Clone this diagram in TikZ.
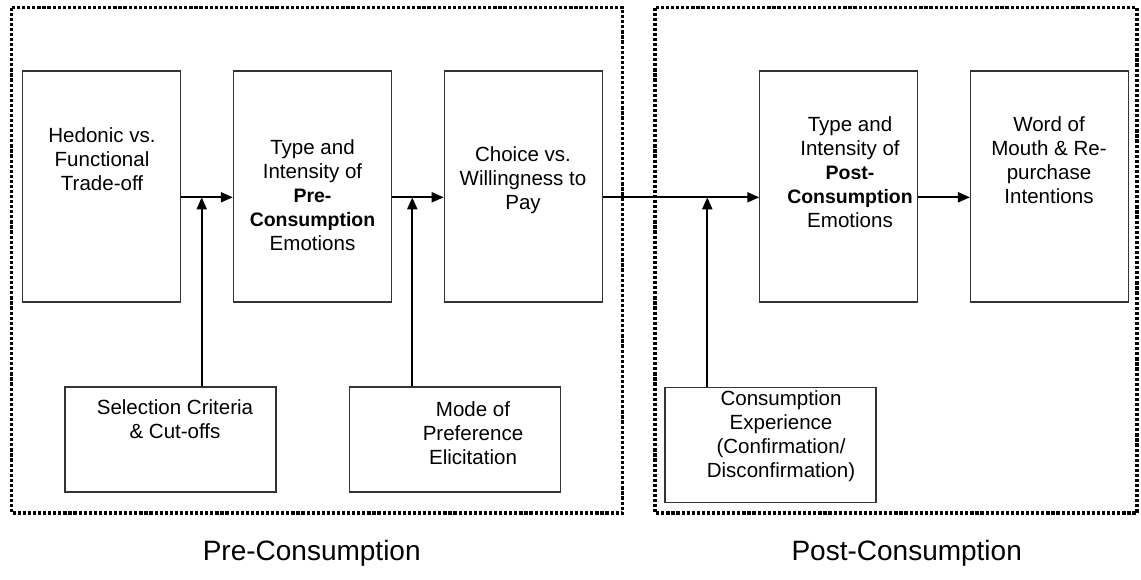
\documentclass[tikz,border=0pt]{standalone}
\usepackage{fontspec}
\setmainfont{Liberation Sans}
\usetikzlibrary{arrows.meta}
\newcommand{\bw}[1]{{\fontsize{14.6}{18}\selectfont\textbf{#1}}}
\begin{document}
\begin{tikzpicture}[x=0.75pt,y=-0.75pt,
  blk/.style={draw=black!80,line width=0.8pt,minimum width=118.5pt,minimum height=173.25pt,inner sep=0pt},
  sub/.style={draw=black!80,line width=0.8pt,minimum width=158.25pt,inner sep=0pt},
  txt/.style={align=center,font=\fontsize{15.4}{18}\selectfont,inner sep=0pt},
  phase/.style={draw=black,line width=2.4pt,dash pattern=on 2.4pt off 1.4pt},
  arr/.style={line width=1.5pt,-{Triangle[length=9pt,width=7.5pt]}},
  ttl/.style={font=\fontsize{21}{25}\selectfont,anchor=base,inner sep=0pt}]
\useasboundingbox (0,0) rectangle (1141,579);
% the two phases
\draw[phase] (11.5,7.5) rectangle (622.5,513);
\draw[phase] (655,7.5) rectangle (1137,513);
% main chain
\node at (101.9,186.5) [blk] (hed) {};
\node at (312.3,186.5) [blk] (pre) {};
\node at (523.2,186.5) [blk] (cho) {};
\node at (838.8,186.5) [blk] (pst) {};
\node at (1049.5,186.5) [blk] (wom) {};
\node at (102,159) [txt] (hed-t) {Hedonic vs.\\Functional\\Trade-off};
\node at (312.5,195) [txt] (pre-t) {Type and\\Intensity of\\\bw{Pre-}\\\bw{Consumption}\\Emotions};
\node at (523,180) [txt] (cho-t) {Choice vs.\\Willingness to\\Pay};
\node at (850,172) [txt] (pst-t) {Type and\\Intensity of\\\bw{Post-}\\\bw{Consumption}\\Emotions};
\node at (1049,160) [txt] (wom-t) {Word of\\Mouth \& Re-\\purchase\\Intentions};
% moderators
\node at (170.5,439.5) [sub,minimum height=78.75pt] (sel) {};
\node at (454.7,439.5) [sub,minimum height=78.75pt] (mod) {};
\node at (770.5,444.9) [sub,minimum height=86.8pt] (exp) {};
\node at (175,419) [txt] (sel-t) {Selection Criteria\\\& Cut-offs};
\node at (473,433) [txt] (mod-t) {Mode of\\Preference\\Elicitation};
\node at (781,436) [txt] (exp-t) {Consumption\\Experience\\(Confirmation/\\Disconfirmation)};
\coordinate (j1) at (201.7,197.3);
\coordinate (j2) at (412.3,197.3);
\coordinate (j3) at (707.3,197.3);
\draw[arr] ([yshift=-8.1pt]hed.east) -- ([yshift=-8.1pt]pre.west);
\draw[arr] ([yshift=-8.1pt]pre.east) -- ([yshift=-8.1pt]cho.west);
\draw[arr] ([yshift=-8.1pt]cho.east) -- ([yshift=-8.1pt]pst.west);
\draw[arr] ([yshift=-8.1pt]pst.east) -- ([yshift=-8.1pt]wom.west);
\draw[arr] (sel.north -| j1) -- (j1);
\draw[arr] (mod.north -| j2) -- (j2);
\draw[arr] (exp.north -| j3) -- (j3);
% phase titles
\node at (311.7,560) [ttl] (pre-l) {Pre-Consumption};
\node at (906.7,560) [ttl] (post-l) {Post-Consumption};
\end{tikzpicture}
\end{document}
